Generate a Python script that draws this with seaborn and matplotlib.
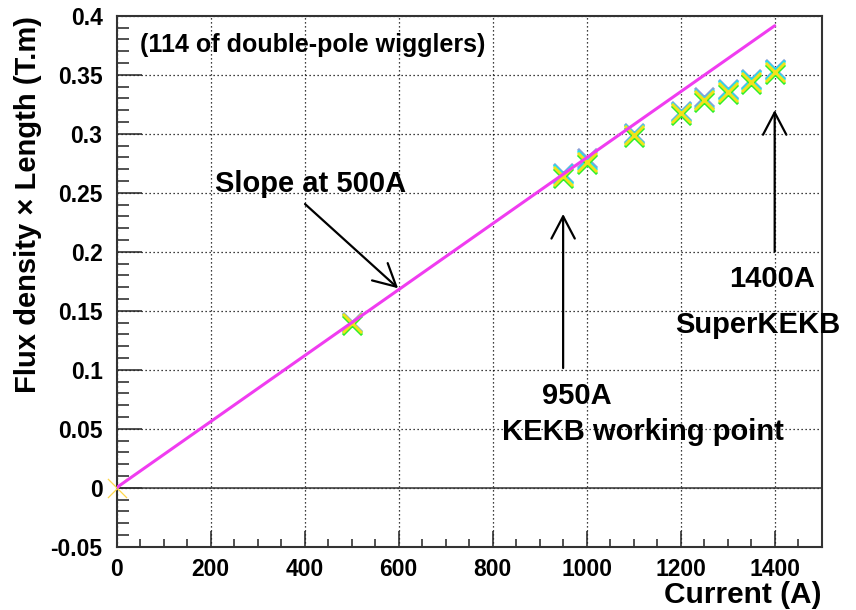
import matplotlib
matplotlib.use("Agg")
import matplotlib.pyplot as plt
from matplotlib.ticker import MultipleLocator, FuncFormatter
import seaborn as sns
import pandas as pd

# ---- data ----
current = [500, 950, 1000, 1100, 1200, 1250, 1300, 1350, 1400]
flux_blue = [0.1408, 0.2670, 0.2793, 0.3008, 0.3195, 0.3308, 0.3378, 0.3463, 0.3552]
flux_cyan = [0.1398, 0.2657, 0.2779, 0.2997, 0.3184, 0.3297, 0.3367, 0.3451, 0.3539]
flux_green = [0.1382, 0.2622, 0.2742, 0.2972, 0.3157, 0.3267, 0.3337, 0.3422, 0.3507]
flux_yellow = [0.1393, 0.2640, 0.2763, 0.2989, 0.3173, 0.3286, 0.3356, 0.3440, 0.3525]
origin_current = [0]
origin_flux = [0.0]
fit_current = [0, 1400]
fit_flux = [0.0, 0.3915]

series_names = ["blue", "cyan", "green", "yellow"]
series_values = [flux_blue, flux_cyan, flux_green, flux_yellow]
series_colors = ["#8a9fd6", "#1fe0ee", "#2cf02c", "#f2e21a"]

x_major_ticks = [0, 200, 400, 600, 800, 1000, 1200, 1400]
y_major_ticks = [-0.05, 0, 0.05, 0.1, 0.15, 0.2, 0.25, 0.3, 0.35, 0.4]

sns.set_theme(style="ticks")
plt.rcParams["font.family"] = ["Liberation Sans", "DejaVu Sans"]
plt.rcParams["font.weight"] = "bold"
plt.rcParams["axes.unicode_minus"] = False
plt.rcParams["text.color"] = "black"
plt.rcParams["axes.labelcolor"] = "black"

fig = plt.figure(figsize=(8.56, 6.10), dpi=100)
ax = fig.add_axes([116.5 / 856, 1 - 546.7 / 610, 705.2 / 856, 531.0 / 610])

# zero line
ax.axhline(0, color="#333333", lw=1.1, zorder=1)

# markers
for name, vals, col in zip(series_names, series_values, series_colors):
    df = pd.DataFrame({"Current": current, "Flux": vals})
    sns.scatterplot(data=df, x="Current", y="Flux", marker="x", s=190,
                    color=col, linewidth=2.1, ax=ax, zorder=3)
df0 = pd.DataFrame({"Current": origin_current, "Flux": origin_flux})
sns.scatterplot(data=df0, x="Current", y="Flux", marker="x", s=190,
                color="#ffd84a", linewidth=0.9, ax=ax, zorder=3, clip_on=False)

# fit line
dfl = pd.DataFrame({"Current": fit_current, "Flux": fit_flux})
sns.lineplot(data=dfl, x="Current", y="Flux", color="#f03cf0", lw=2.2, ax=ax, zorder=4)

ax.set_xlim(0, 1500)
ax.set_ylim(-0.05, 0.4)
ax.set_xticks(x_major_ticks)
ax.set_yticks(y_major_ticks)
ax.xaxis.set_minor_locator(MultipleLocator(50))
ax.yaxis.set_minor_locator(MultipleLocator(0.01))
ax.yaxis.set_major_formatter(FuncFormatter(lambda v, p: "%g" % round(v, 3)))
ax.xaxis.set_major_formatter(FuncFormatter(lambda v, p: "%d" % v))

ax.tick_params(axis="both", which="both", direction="in", top=False, right=False,
               colors="#222222", labelcolor="black", width=1.1)
ax.tick_params(axis="x", which="major", length=11.5, labelsize=16.5, pad=8)
ax.tick_params(axis="x", which="minor", length=5.5)
ax.tick_params(axis="y", which="major", length=18, labelsize=16.5, pad=10)
ax.tick_params(axis="y", which="minor", length=8.5)
for lab in ax.get_xticklabels() + ax.get_yticklabels():
    lab.set_fontweight("bold")

ax.grid(True, which="major", color="black", linestyle=(0, (1, 2.2)), lw=0.9)
for sp in ax.spines.values():
    sp.set_color("#333333")
    sp.set_linewidth(1.5)
    sp.set_visible(True)

ax.set_xlabel("Current (A)", fontsize=21.5, fontweight="bold", loc="right", color="black")
ax.xaxis.label.set_va("baseline")
ax.xaxis.set_label_coords(1.0, -(603 - 546.7) / 531.0)
ax.set_ylabel("Flux density \u00d7 Length (T.m)", fontsize=21, fontweight="bold", loc="top",
              color="black")
ax.yaxis.label.set_va("baseline")
ax.yaxis.set_label_coords(-(116.5 - 36) / 705.2, 1.0)

# annotations
ax.text(50, 0.3695, "(114 of double-pole wigglers)", fontsize=18, fontweight="bold",
        ha="left", va="baseline", color="black")
ax.text(412, 0.251, "Slope at 500A", fontsize=21, fontweight="bold", ha="center",
        va="baseline", color="black")
ax.text(979, 0.0709, "950A", fontsize=21, fontweight="bold", ha="center", va="baseline",
        color="black")
ax.text(1119, 0.0404, "KEKB working point", fontsize=21, fontweight="bold", ha="center",
        va="baseline", color="black")
ax.text(1394, 0.170, "1400A", fontsize=21, fontweight="bold", ha="center", va="baseline",
        color="black")
ax.text(1365, 0.131, "SuperKEKB", fontsize=21, fontweight="bold", ha="center", va="baseline",
        color="black")

arrow_kw = dict(arrowstyle="->,head_length=0.8,head_width=0.42", lw=1.6, color="black",
                shrinkA=0, shrinkB=0, mutation_scale=20)
ax.annotate("", xy=(599, 0.169), xytext=(401, 0.2404), arrowprops=arrow_kw, zorder=5)
ax.annotate("", xy=(950, 0.232), xytext=(950, 0.1014), arrowprops=arrow_kw, zorder=5)
ax.annotate("", xy=(1400, 0.320), xytext=(1400, 0.200), arrowprops=arrow_kw, zorder=5)

if ax.get_legend() is not None:
    ax.get_legend().remove()

fig.savefig("out.png", dpi=100, facecolor="white")
